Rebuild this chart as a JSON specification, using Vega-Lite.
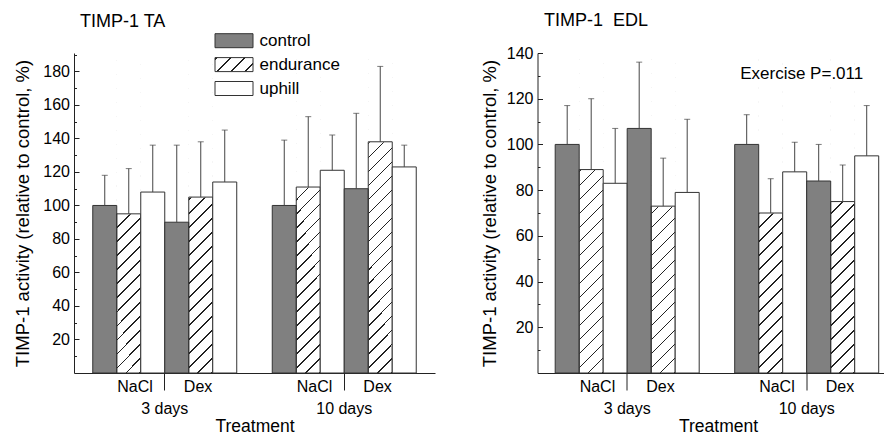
{
  "$schema": "https://vega.github.io/schema/vega-lite/v6.json",
  "background": "white",
  "padding": {"left": 13, "top": 12, "right": 0, "bottom": 0},
  "spacing": 44.5,
  "datasets": {
    "ta": [
      {"days": "3 days", "treatment": "NaCl", "group": "control", "mean": 100, "upper": 118},
      {"days": "3 days", "treatment": "NaCl", "group": "endurance", "mean": 95, "upper": 122},
      {"days": "3 days", "treatment": "NaCl", "group": "uphill", "mean": 108, "upper": 136},
      {"days": "3 days", "treatment": "Dex", "group": "control", "mean": 90, "upper": 136},
      {"days": "3 days", "treatment": "Dex", "group": "endurance", "mean": 105, "upper": 138},
      {"days": "3 days", "treatment": "Dex", "group": "uphill", "mean": 114, "upper": 145},
      {"days": "10 days", "treatment": "NaCl", "group": "control", "mean": 100, "upper": 139},
      {"days": "10 days", "treatment": "NaCl", "group": "endurance", "mean": 111, "upper": 153},
      {"days": "10 days", "treatment": "NaCl", "group": "uphill", "mean": 121, "upper": 142},
      {"days": "10 days", "treatment": "Dex", "group": "control", "mean": 110, "upper": 155},
      {"days": "10 days", "treatment": "Dex", "group": "endurance", "mean": 138, "upper": 183},
      {"days": "10 days", "treatment": "Dex", "group": "uphill", "mean": 123, "upper": 136}
    ],
    "edl": [
      {"days": "3 days", "treatment": "NaCl", "group": "control", "mean": 100, "upper": 117},
      {"days": "3 days", "treatment": "NaCl", "group": "endurance", "mean": 89, "upper": 120},
      {"days": "3 days", "treatment": "NaCl", "group": "uphill", "mean": 83, "upper": 107},
      {"days": "3 days", "treatment": "Dex", "group": "control", "mean": 107, "upper": 136},
      {"days": "3 days", "treatment": "Dex", "group": "endurance", "mean": 73, "upper": 94},
      {"days": "3 days", "treatment": "Dex", "group": "uphill", "mean": 79, "upper": 111},
      {"days": "10 days", "treatment": "NaCl", "group": "control", "mean": 100, "upper": 113},
      {"days": "10 days", "treatment": "NaCl", "group": "endurance", "mean": 70, "upper": 85},
      {"days": "10 days", "treatment": "NaCl", "group": "uphill", "mean": 88, "upper": 101},
      {"days": "10 days", "treatment": "Dex", "group": "control", "mean": 84, "upper": 100},
      {"days": "10 days", "treatment": "Dex", "group": "endurance", "mean": 75, "upper": 91},
      {"days": "10 days", "treatment": "Dex", "group": "uphill", "mean": 95, "upper": 117}
    ]
  },
  "resolve": {
    "scale": {"x": "independent", "y": "independent", "xOffset": "independent", "fill": "independent"},
    "legend": {"fill": "independent"}
  },
  "hconcat": [
    {
      "width": 361,
      "height": 320,
      "title": {"text": "TIMP-1 TA", "anchor": "start", "frame": "group", "dx": 6, "dy": 2.8, "offset": 4},
      "resolve": {"axis": {"y": "independent"}},
      "layer": [
        {
          "data": {"name": "ta"},
          "transform": [{"calculate": "datum.treatment + ' ' + datum.group", "as": "slot"}],
          "encoding": {
            "x": {
              "field": "days", "type": "nominal",
              "scale": {"domain": ["3 days", "10 days"], "paddingInner": 0.1978, "paddingOuter": 0.1045, "align": 0.5},
              "axis": {
                "title": "Treatment", "titleFontSize": 17.5, "titlePadding": 0.5,
                "tickSize": 17, "labelPadding": -11.5, "labelAngle": 0, "labelFontSize": 16,
                "labelLineHeight": 22,
                "labelExpr": "['NaCl\u00a0\u00a0\u00a0\u00a0\u00a0\u00a0\u00a0Dex', datum.label]"
              }
            },
            "xOffset": {
              "field": "slot", "type": "nominal",
              "scale": {"domain": ["NaCl control", "NaCl endurance", "NaCl uphill", "Dex control", "Dex endurance", "Dex uphill"], "paddingInner": 0, "paddingOuter": 0}
            }
          },
          "layer": [
            {
              "transform": [{"filter": "datum.group === 'endurance'"}],
              "mark": {
                "type": "bar", "strokeWidth": 0,
                "fill": {
                  "gradient": "linear", "x1": 0, "y1": 0, "x2": 0.0802, "y2": 1.069,
                  "stops": [
                    {"offset": 0, "color": "#fff"},
                    {"offset": 0.0182, "color": "#fff"}, {"offset": 0.0182, "color": "#222"}, {"offset": 0.0225, "color": "#222"}, {"offset": 0.0225, "color": "#fff"},
                    {"offset": 0.0589, "color": "#fff"}, {"offset": 0.0589, "color": "#222"}, {"offset": 0.0632, "color": "#222"}, {"offset": 0.0632, "color": "#fff"},
                    {"offset": 0.0996, "color": "#fff"}, {"offset": 0.0996, "color": "#222"}, {"offset": 0.1039, "color": "#222"}, {"offset": 0.1039, "color": "#fff"},
                    {"offset": 0.1403, "color": "#fff"}, {"offset": 0.1403, "color": "#222"}, {"offset": 0.1446, "color": "#222"}, {"offset": 0.1446, "color": "#fff"},
                    {"offset": 0.1810, "color": "#fff"}, {"offset": 0.1810, "color": "#222"}, {"offset": 0.1853, "color": "#222"}, {"offset": 0.1853, "color": "#fff"},
                    {"offset": 0.2217, "color": "#fff"}, {"offset": 0.2217, "color": "#222"}, {"offset": 0.2260, "color": "#222"}, {"offset": 0.2260, "color": "#fff"},
                    {"offset": 0.2624, "color": "#fff"}, {"offset": 0.2624, "color": "#222"}, {"offset": 0.2667, "color": "#222"}, {"offset": 0.2667, "color": "#fff"},
                    {"offset": 0.3031, "color": "#fff"}, {"offset": 0.3031, "color": "#222"}, {"offset": 0.3074, "color": "#222"}, {"offset": 0.3074, "color": "#fff"},
                    {"offset": 0.3438, "color": "#fff"}, {"offset": 0.3438, "color": "#222"}, {"offset": 0.3481, "color": "#222"}, {"offset": 0.3481, "color": "#fff"},
                    {"offset": 0.3844, "color": "#fff"}, {"offset": 0.3844, "color": "#222"}, {"offset": 0.3888, "color": "#222"}, {"offset": 0.3888, "color": "#fff"},
                    {"offset": 0.4251, "color": "#fff"}, {"offset": 0.4251, "color": "#222"}, {"offset": 0.4295, "color": "#222"}, {"offset": 0.4295, "color": "#fff"},
                    {"offset": 0.4658, "color": "#fff"}, {"offset": 0.4658, "color": "#222"}, {"offset": 0.4702, "color": "#222"}, {"offset": 0.4702, "color": "#fff"},
                    {"offset": 0.5065, "color": "#fff"}, {"offset": 0.5065, "color": "#222"}, {"offset": 0.5109, "color": "#222"}, {"offset": 0.5109, "color": "#fff"},
                    {"offset": 0.5472, "color": "#fff"}, {"offset": 0.5472, "color": "#222"}, {"offset": 0.5516, "color": "#222"}, {"offset": 0.5516, "color": "#fff"},
                    {"offset": 0.5879, "color": "#fff"}, {"offset": 0.5879, "color": "#222"}, {"offset": 0.5923, "color": "#222"}, {"offset": 0.5923, "color": "#fff"},
                    {"offset": 0.6286, "color": "#fff"}, {"offset": 0.6286, "color": "#222"}, {"offset": 0.6330, "color": "#222"}, {"offset": 0.6330, "color": "#fff"},
                    {"offset": 0.6693, "color": "#fff"}, {"offset": 0.6693, "color": "#222"}, {"offset": 0.6737, "color": "#222"}, {"offset": 0.6737, "color": "#fff"},
                    {"offset": 0.7100, "color": "#fff"}, {"offset": 0.7100, "color": "#222"}, {"offset": 0.7144, "color": "#222"}, {"offset": 0.7144, "color": "#fff"},
                    {"offset": 0.7507, "color": "#fff"}, {"offset": 0.7507, "color": "#222"}, {"offset": 0.7551, "color": "#222"}, {"offset": 0.7551, "color": "#fff"},
                    {"offset": 0.7914, "color": "#fff"}, {"offset": 0.7914, "color": "#222"}, {"offset": 0.7958, "color": "#222"}, {"offset": 0.7958, "color": "#fff"},
                    {"offset": 0.8321, "color": "#fff"}, {"offset": 0.8321, "color": "#222"}, {"offset": 0.8365, "color": "#222"}, {"offset": 0.8365, "color": "#fff"},
                    {"offset": 0.8728, "color": "#fff"}, {"offset": 0.8728, "color": "#222"}, {"offset": 0.8772, "color": "#222"}, {"offset": 0.8772, "color": "#fff"},
                    {"offset": 0.9135, "color": "#fff"}, {"offset": 0.9135, "color": "#222"}, {"offset": 0.9179, "color": "#222"}, {"offset": 0.9179, "color": "#fff"},
                    {"offset": 0.9542, "color": "#fff"}, {"offset": 0.9542, "color": "#222"}, {"offset": 0.9586, "color": "#222"}, {"offset": 0.9586, "color": "#fff"},
                    {"offset": 0.9949, "color": "#fff"}, {"offset": 0.9949, "color": "#222"}, {"offset": 0.9993, "color": "#222"}, {"offset": 0.9993, "color": "#fff"},
                    {"offset": 1, "color": "#fff"}
                  ]
                }
              },
              "encoding": {
                "y": {"datum": 191, "type": "quantitative", "scale": {"domain": [0, 191], "nice": false},
                      "axis": {"orient": "left", "values": [20, 40, 60, 80, 100, 120, 140, 160, 180], "title": "TIMP-1 activity (relative to control, %)", "titlePadding": 10.5}},
                "y2": {"datum": 0}
              }
            },
            {
              "transform": [{"filter": "datum.group === 'endurance'"}],
              "mark": {"type": "bar", "fill": "#ffffff", "stroke": "#ffffff", "strokeWidth": 1},
              "encoding": {
                "y": {"field": "mean", "type": "quantitative",
                      "axis": {"orient": "left", "values": [20, 40, 60, 80, 100, 120, 140, 160, 180], "title": "TIMP-1 activity (relative to control, %)", "titlePadding": 10.5}},
                "y2": {"datum": 191}
              }
            },
            {
              "mark": {"type": "bar", "strokeWidth": 0, "opacity": 0},
              "encoding": {
                "y": {"datum": 0, "type": "quantitative",
                      "axis": {"orient": "left", "values": [20, 40, 60, 80, 100, 120, 140, 160, 180], "title": "TIMP-1 activity (relative to control, %)", "titlePadding": 10.5}},
                "fill": {
                  "field": "group", "type": "nominal",
                  "scale": {
                    "domain": ["control", "endurance", "uphill"],
                    "range": [
                      "#808080",
                      {"expr": "{gradient: 'linear', x1: 0, y1: 0, x2: 1.2049, y2: 0.4439, stops: [{offset: 0, color: '#fff'}, {offset: 0.024, color: '#fff'}, {offset: 0.024, color: '#222'}, {offset: 0.0529, color: '#222'}, {offset: 0.0529, color: '#fff'}, {offset: 0.2933, color: '#fff'}, {offset: 0.2933, color: '#222'}, {offset: 0.3221, color: '#222'}, {offset: 0.3221, color: '#fff'}, {offset: 0.5625, color: '#fff'}, {offset: 0.5625, color: '#222'}, {offset: 0.5913, color: '#222'}, {offset: 0.5913, color: '#fff'}, {offset: 0.8317, color: '#fff'}, {offset: 0.8317, color: '#222'}, {offset: 0.8606, color: '#222'}, {offset: 0.8606, color: '#fff'}, {offset: 1, color: '#fff'}]}"},
                      "#ffffff"
                    ]
                  },
                  "legend": {
                    "orient": "none", "legendX": 151.5, "legendY": -20.8, "title": null,
                    "symbolType": "M-3.8,-1.4H3.8V1.4H-3.8Z", "symbolSize": 100,
                    "symbolOpacity": 1, "symbolStrokeColor": "#333333", "symbolStrokeWidth": 1,
                    "labelFontSize": 17, "labelOffset": 17, "rowPadding": 4.9, "padding": 0,
                    "labelColor": "#000000"
                  }
                }
              }
            },
            {
              "mark": {"type": "bar", "stroke": "#333333", "strokeWidth": 1},
              "encoding": {
                "y": {"field": "mean", "type": "quantitative",
                      "axis": {"orient": "left", "values": [20, 40, 60, 80, 100, 120, 140, 160, 180], "title": "TIMP-1 activity (relative to control, %)", "titlePadding": 10.5}},
                "fill": {
                  "condition": [
                    {"test": "datum.group === 'control'", "value": "#808080"},
                    {"test": "datum.group === 'endurance'", "value": "transparent"}
                  ],
                  "value": "#ffffff"
                }
              }
            },
            {
              "mark": {"type": "rule", "color": "#444444", "strokeWidth": 1},
              "encoding": {
                "y": {"field": "mean", "type": "quantitative",
                      "axis": {"orient": "left", "values": [20, 40, 60, 80, 100, 120, 140, 160, 180], "title": "TIMP-1 activity (relative to control, %)", "titlePadding": 10.5}},
                "y2": {"field": "upper"}
              }
            }
          ]
        },
        {
          "data": {"name": "ta"},
          "transform": [{"calculate": "datum.treatment + ' ' + datum.group", "as": "slot"}],
          "mark": {"type": "tick", "color": "#444444", "size": 6, "thickness": 1},
          "encoding": {
            "x": {
              "field": "days", "type": "nominal",
              "scale": {"domain": ["3 days", "10 days"], "paddingInner": 0.1978, "paddingOuter": 0.1045, "align": 0.5},
              "axis": {
                "title": "Treatment", "titleFontSize": 17.5, "titlePadding": 0.5,
                "tickSize": 17, "labelPadding": -11.5, "labelAngle": 0, "labelFontSize": 16,
                "labelLineHeight": 22,
                "labelExpr": "['NaCl\u00a0\u00a0\u00a0\u00a0\u00a0\u00a0\u00a0Dex', datum.label]"
              }
            },
            "xOffset": {
              "field": "slot", "type": "nominal",
              "scale": {"domain": ["NaCl control", "NaCl endurance", "NaCl uphill", "Dex control", "Dex endurance", "Dex uphill"], "paddingInner": 0, "paddingOuter": 0}
            },
            "y": {"field": "upper", "type": "quantitative",
                  "axis": {"orient": "left", "values": [10, 30, 50, 70, 90, 110, 130, 150, 170, 190], "labels": false, "domain": false, "title": null, "tickSize": -2.5}}
          }
        }
      ]
    },
    {
      "width": 348.5,
      "height": 320,
      "title": {"text": "TIMP-1\u00a0 EDL", "anchor": "start", "frame": "group", "dx": 6.5, "dy": -11, "offset": 4},
      "resolve": {"axis": {"y": "independent"}},
      "layer": [
        {
          "layer": [
            {
              "data": {"name": "edl"},
              "transform": [{"calculate": "datum.treatment + ' ' + datum.group", "as": "slot"}],
              "encoding": {
                "x": {
                  "field": "days", "type": "nominal",
                  "scale": {"domain": ["3 days", "10 days"], "paddingInner": 0.1978, "paddingOuter": 0.0696, "align": 0.708},
                  "axis": {
                    "title": "Treatment", "titleFontSize": 17.5, "titlePadding": 0.5, "titleX": 180.5,
                    "tickSize": 17, "labelPadding": -11.5, "labelAngle": 0, "labelFontSize": 16,
                    "labelLineHeight": 22,
                    "labelExpr": "['NaCl\u00a0\u00a0\u00a0\u00a0\u00a0\u00a0\u00a0Dex', datum.label]"
                  }
                },
                "xOffset": {
                  "field": "slot", "type": "nominal",
                  "scale": {"domain": ["NaCl control", "NaCl endurance", "NaCl uphill", "Dex control", "Dex endurance", "Dex uphill"], "paddingInner": 0, "paddingOuter": 0}
                }
              },
              "layer": [
                {
                  "transform": [{"filter": "datum.group === 'endurance'"}],
                  "mark": {
                    "type": "bar", "strokeWidth": 0,
                    "fill": {
                      "gradient": "linear", "x1": 0, "y1": 0, "x2": 0.0802, "y2": 1.069,
                      "stops": [
                        {"offset": 0, "color": "#fff"},
                        {"offset": 0.0182, "color": "#fff"}, {"offset": 0.0182, "color": "#222"}, {"offset": 0.0225, "color": "#222"}, {"offset": 0.0225, "color": "#fff"},
                        {"offset": 0.0589, "color": "#fff"}, {"offset": 0.0589, "color": "#222"}, {"offset": 0.0632, "color": "#222"}, {"offset": 0.0632, "color": "#fff"},
                        {"offset": 0.0996, "color": "#fff"}, {"offset": 0.0996, "color": "#222"}, {"offset": 0.1039, "color": "#222"}, {"offset": 0.1039, "color": "#fff"},
                        {"offset": 0.1403, "color": "#fff"}, {"offset": 0.1403, "color": "#222"}, {"offset": 0.1446, "color": "#222"}, {"offset": 0.1446, "color": "#fff"},
                        {"offset": 0.1810, "color": "#fff"}, {"offset": 0.1810, "color": "#222"}, {"offset": 0.1853, "color": "#222"}, {"offset": 0.1853, "color": "#fff"},
                        {"offset": 0.2217, "color": "#fff"}, {"offset": 0.2217, "color": "#222"}, {"offset": 0.2260, "color": "#222"}, {"offset": 0.2260, "color": "#fff"},
                        {"offset": 0.2624, "color": "#fff"}, {"offset": 0.2624, "color": "#222"}, {"offset": 0.2667, "color": "#222"}, {"offset": 0.2667, "color": "#fff"},
                        {"offset": 0.3031, "color": "#fff"}, {"offset": 0.3031, "color": "#222"}, {"offset": 0.3074, "color": "#222"}, {"offset": 0.3074, "color": "#fff"},
                        {"offset": 0.3438, "color": "#fff"}, {"offset": 0.3438, "color": "#222"}, {"offset": 0.3481, "color": "#222"}, {"offset": 0.3481, "color": "#fff"},
                        {"offset": 0.3844, "color": "#fff"}, {"offset": 0.3844, "color": "#222"}, {"offset": 0.3888, "color": "#222"}, {"offset": 0.3888, "color": "#fff"},
                        {"offset": 0.4251, "color": "#fff"}, {"offset": 0.4251, "color": "#222"}, {"offset": 0.4295, "color": "#222"}, {"offset": 0.4295, "color": "#fff"},
                        {"offset": 0.4658, "color": "#fff"}, {"offset": 0.4658, "color": "#222"}, {"offset": 0.4702, "color": "#222"}, {"offset": 0.4702, "color": "#fff"},
                        {"offset": 0.5065, "color": "#fff"}, {"offset": 0.5065, "color": "#222"}, {"offset": 0.5109, "color": "#222"}, {"offset": 0.5109, "color": "#fff"},
                        {"offset": 0.5472, "color": "#fff"}, {"offset": 0.5472, "color": "#222"}, {"offset": 0.5516, "color": "#222"}, {"offset": 0.5516, "color": "#fff"},
                        {"offset": 0.5879, "color": "#fff"}, {"offset": 0.5879, "color": "#222"}, {"offset": 0.5923, "color": "#222"}, {"offset": 0.5923, "color": "#fff"},
                        {"offset": 0.6286, "color": "#fff"}, {"offset": 0.6286, "color": "#222"}, {"offset": 0.6330, "color": "#222"}, {"offset": 0.6330, "color": "#fff"},
                        {"offset": 0.6693, "color": "#fff"}, {"offset": 0.6693, "color": "#222"}, {"offset": 0.6737, "color": "#222"}, {"offset": 0.6737, "color": "#fff"},
                        {"offset": 0.7100, "color": "#fff"}, {"offset": 0.7100, "color": "#222"}, {"offset": 0.7144, "color": "#222"}, {"offset": 0.7144, "color": "#fff"},
                        {"offset": 0.7507, "color": "#fff"}, {"offset": 0.7507, "color": "#222"}, {"offset": 0.7551, "color": "#222"}, {"offset": 0.7551, "color": "#fff"},
                        {"offset": 0.7914, "color": "#fff"}, {"offset": 0.7914, "color": "#222"}, {"offset": 0.7958, "color": "#222"}, {"offset": 0.7958, "color": "#fff"},
                        {"offset": 0.8321, "color": "#fff"}, {"offset": 0.8321, "color": "#222"}, {"offset": 0.8365, "color": "#222"}, {"offset": 0.8365, "color": "#fff"},
                        {"offset": 0.8728, "color": "#fff"}, {"offset": 0.8728, "color": "#222"}, {"offset": 0.8772, "color": "#222"}, {"offset": 0.8772, "color": "#fff"},
                        {"offset": 0.9135, "color": "#fff"}, {"offset": 0.9135, "color": "#222"}, {"offset": 0.9179, "color": "#222"}, {"offset": 0.9179, "color": "#fff"},
                        {"offset": 0.9542, "color": "#fff"}, {"offset": 0.9542, "color": "#222"}, {"offset": 0.9586, "color": "#222"}, {"offset": 0.9586, "color": "#fff"},
                        {"offset": 0.9949, "color": "#fff"}, {"offset": 0.9949, "color": "#222"}, {"offset": 0.9993, "color": "#222"}, {"offset": 0.9993, "color": "#fff"},
                        {"offset": 1, "color": "#fff"}
                      ]
                    }
                  },
                  "encoding": {
                    "y": {"datum": 140, "type": "quantitative", "scale": {"domain": [0, 140], "nice": false},
                          "axis": {"orient": "left", "values": [20, 40, 60, 80, 100, 120, 140], "title": "TIMP-1 activity (relative to control, %)", "titlePadding": 7}},
                    "y2": {"datum": 0}
                  }
                },
                {
                  "transform": [{"filter": "datum.group === 'endurance'"}],
                  "mark": {"type": "bar", "fill": "#ffffff", "stroke": "#ffffff", "strokeWidth": 1},
                  "encoding": {
                    "y": {"field": "mean", "type": "quantitative",
                          "axis": {"orient": "left", "values": [20, 40, 60, 80, 100, 120, 140], "title": "TIMP-1 activity (relative to control, %)", "titlePadding": 7}},
                    "y2": {"datum": 140}
                  }
                },
                {
                  "mark": {"type": "bar", "stroke": "#333333", "strokeWidth": 1},
                  "encoding": {
                    "y": {"field": "mean", "type": "quantitative",
                          "axis": {"orient": "left", "values": [20, 40, 60, 80, 100, 120, 140], "title": "TIMP-1 activity (relative to control, %)", "titlePadding": 7}},
                    "fill": {
                      "condition": [
                        {"test": "datum.group === 'control'", "value": "#808080"},
                        {"test": "datum.group === 'endurance'", "value": "transparent"}
                      ],
                      "value": "#ffffff"
                    }
                  }
                },
                {
                  "mark": {"type": "rule", "color": "#444444", "strokeWidth": 1},
                  "encoding": {
                    "y": {"field": "mean", "type": "quantitative",
                          "axis": {"orient": "left", "values": [20, 40, 60, 80, 100, 120, 140], "title": "TIMP-1 activity (relative to control, %)", "titlePadding": 7}},
                    "y2": {"field": "upper"}
                  }
                }
              ]
            },
            {
              "data": {"values": [{"days": "10 days", "note": "Exercise P=.011"}]},
              "mark": {"type": "text", "fontSize": 17, "color": "#000000", "align": "center", "baseline": "middle", "dx": -5},
              "encoding": {
                "x": {"field": "days", "type": "nominal",
                      "axis": {
                        "title": "Treatment", "titleFontSize": 17.5, "titlePadding": 0.5, "titleX": 180.5,
                        "tickSize": 17, "labelPadding": -11.5, "labelAngle": 0, "labelFontSize": 16,
                        "labelLineHeight": 22,
                        "labelExpr": "['NaCl\u00a0\u00a0\u00a0\u00a0\u00a0\u00a0\u00a0Dex', datum.label]"
                      }},
                "y": {"datum": 131, "type": "quantitative",
                      "axis": {"orient": "left", "values": [20, 40, 60, 80, 100, 120, 140], "title": "TIMP-1 activity (relative to control, %)", "titlePadding": 7}},
                "text": {"field": "note"}
              }
            }
          ]
        },
        {
          "data": {"name": "edl"},
          "transform": [{"calculate": "datum.treatment + ' ' + datum.group", "as": "slot"}],
          "mark": {"type": "tick", "color": "#444444", "size": 6, "thickness": 1},
          "encoding": {
            "x": {
              "field": "days", "type": "nominal",
              "scale": {"domain": ["3 days", "10 days"], "paddingInner": 0.1978, "paddingOuter": 0.0696, "align": 0.708},
              "axis": {
                "title": "Treatment", "titleFontSize": 17.5, "titlePadding": 0.5, "titleX": 180.5,
                "tickSize": 17, "labelPadding": -11.5, "labelAngle": 0, "labelFontSize": 16,
                "labelLineHeight": 22,
                "labelExpr": "['NaCl\u00a0\u00a0\u00a0\u00a0\u00a0\u00a0\u00a0Dex', datum.label]"
              }
            },
            "xOffset": {
              "field": "slot", "type": "nominal",
              "scale": {"domain": ["NaCl control", "NaCl endurance", "NaCl uphill", "Dex control", "Dex endurance", "Dex uphill"], "paddingInner": 0, "paddingOuter": 0}
            },
            "y": {"field": "upper", "type": "quantitative",
                  "axis": {"orient": "left", "values": [10, 30, 50, 70, 90, 110, 130], "labels": false, "domain": false, "title": null, "tickSize": -2.5}}
          }
        }
      ]
    }
  ],
  "config": {
    "font": "Liberation Sans",
    "view": {"stroke": null},
    "title": {"fontSize": 18, "fontWeight": "normal", "color": "#000000"},
    "axis": {
      "grid": false, "domainColor": "#222222", "tickColor": "#222222",
      "labelColor": "#000000", "titleColor": "#000000", "titleFontWeight": "normal",
      "domainWidth": 1, "tickWidth": 1
    },
    "axisY": {
      "tickSize": -5, "labelPadding": 9.5, "labelFontSize": 16,
      "titleFontSize": 18.5
    }
  }
}
